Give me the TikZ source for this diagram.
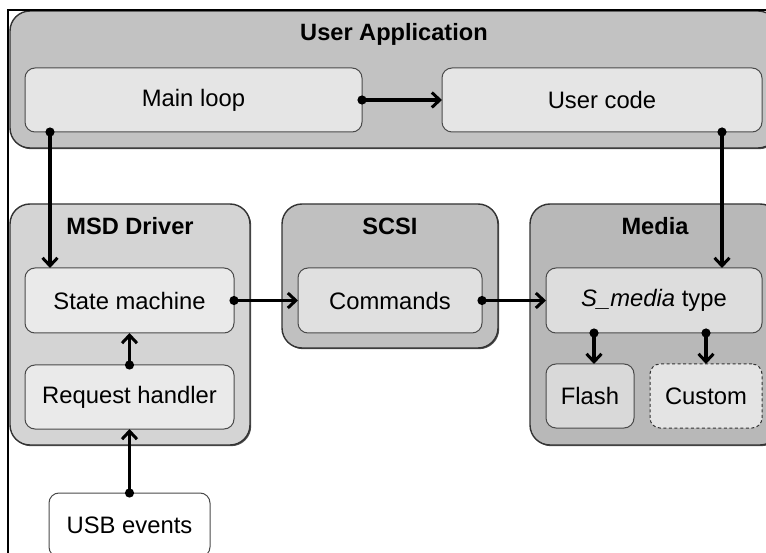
\documentclass[tikz,border=0pt]{standalone}
\usepackage{fontspec}
\setmainfont{Liberation Sans}
\usetikzlibrary{arrows.meta,calc,shadows}

\definecolor{edgeouter}{HTML}{333333}
\definecolor{edgeinner}{HTML}{4A4A4A}
\definecolor{appfill}{HTML}{C2C2C2}
\definecolor{msdfill}{HTML}{D4D4D4}
\definecolor{scsifill}{HTML}{C0C0C0}
\definecolor{mediafill}{HTML}{B8B8B8}
\definecolor{loopfill}{HTML}{E5E5E5}
\definecolor{drvfill}{HTML}{EAEAEA}
\definecolor{cmdfill}{HTML}{E0E0E0}
\definecolor{smfill}{HTML}{DDDDDD}
\definecolor{flashfill}{HTML}{D9D9D9}
\definecolor{customfill}{HTML}{E4E4E4}

\tikzset{
  layer/.style={draw=edgeouter, line width=1.4pt, rounded corners=20pt,
    inner sep=0pt, outer sep=0pt,
    drop shadow={shadow xshift=1.2pt, shadow yshift=-1.2pt, fill=black!75, opacity=0.9}},
  block/.style={draw=edgeinner, line width=1pt, rounded corners=10pt,
    inner sep=0pt, outer sep=0pt, align=center},
  title/.style={font=\fontsize{23.6}{27}\selectfont\bfseries, inner sep=0pt},
  flow/.style={draw=black, line width=3.2pt,
    -{Straight Barb[length=8pt,width=15pt,line width=3pt]}},
  dot/.style={fill=black}
}

\begin{document}
\begin{tikzpicture}[x=1pt, y=-1pt, font=\fontsize{23.8}{27}\selectfont]
  \clip (0,0) rectangle (766,553);
  \fill[white] (0,0) rectangle (766,553);

  % outer layers
  \node[layer, fill=appfill, minimum width=768pt, minimum height=137pt] (app) at (394,79.5) {};
  \node[layer, fill=msdfill, minimum width=240pt, minimum height=241pt] (msd) at (130,324.5) {};
  \node[layer, fill=scsifill, minimum width=216pt, minimum height=144pt] (scsi) at (390,276) {};
  \node[layer, fill=mediafill, minimum width=250pt, minimum height=241pt] (media) at (655,324.5) {};

  % layer titles
  \node[title] (tapp) at (394,34) {User Application};
  \node[title] (tmsd) at (130,226) {MSD Driver};
  \node[title] (tscsi) at (390,226) {SCSI};
  \node[title] (tmedia) at (655,226) {Media};

  % inner blocks
  \node[block, fill=loopfill, minimum width=337pt, minimum height=64pt] (main) at (193.5,100) {Main loop};
  \node[block, fill=loopfill, minimum width=320pt, minimum height=64pt] (user) at (602,100) {User code};
  \node[block, fill=drvfill, minimum width=209pt, minimum height=65pt] (st) at (129.5,300.5) {State machine};
  \node[block, fill=drvfill, minimum width=209pt, minimum height=64pt] (req) at (129.5,397) {Request handler};
  \node[block, fill=white, minimum width=161pt, minimum height=64pt] (usb) at (129.5,525) {USB events};
  \node[block, fill=cmdfill, minimum width=184pt, minimum height=65pt] (cmd) at (390,300.5) {Commands};
  \node[block, fill=smfill, minimum width=216pt, minimum height=65pt] (sm) at (654,300.5) {\textit{S\_media} type};
  \node[block, fill=flashfill, minimum width=88pt, minimum height=64pt] (flash) at (590,396) {Flash};
  \node[block, fill=customfill, draw=edgeouter, dash pattern=on 3pt off 2.5pt, minimum width=112pt, minimum height=64pt] (custom) at (706,396) {Custom};

  % anchor points of the connectors
  \coordinate (mlout) at ($(main.south west)+(25,0)$);
  \coordinate (ucout) at ($(user.south east)+(-40,0)$);
  \coordinate (toflash) at ($(flash.north |- sm.south)+(4,0)$);
  \coordinate (tocustom) at (custom.north |- sm.south);

  % connectors
  \path[flow] (main.east) -- (user.west);
  \path[flow] (mlout) -- (mlout |- st.north);
  \path[flow] (ucout) -- (ucout |- sm.north);
  \path[flow] (st.east) -- (cmd.west);
  \path[flow] (cmd.east) -- (sm.west);
  \path[flow] (req.north) -- (st.south);
  \path[flow] (usb.north) -- (req.south);
  \path[flow] (toflash) -- (toflash |- flash.north);
  \path[flow] (tocustom) -- (custom.north);

  % start dots
  \foreach \p in {main.east, mlout, ucout, st.east, cmd.east, req.north, usb.north, toflash, tocustom}
    \fill[dot] (\p) circle (4.6pt);

  % frame
  \draw[line width=1.5pt, line cap=rect] (8,553) -- (8,10) -- (766,10);
\end{tikzpicture}
\end{document}
